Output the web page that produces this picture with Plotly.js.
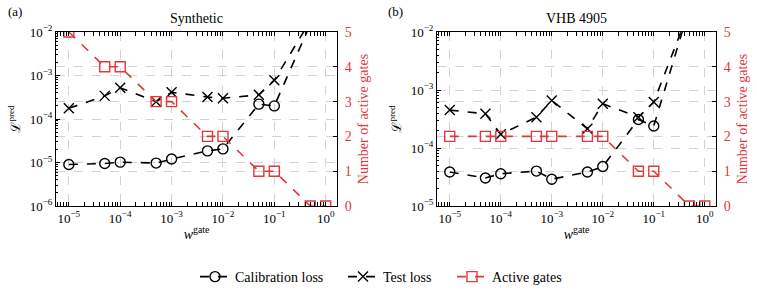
<!DOCTYPE html>
<html><head><meta charset="utf-8">
<script src="https://cdn.plot.ly/plotly-3.0.1.min.js"></script>
<style>html,body{margin:0;padding:0;background:#fff}</style>
</head><body><div id="chart" style="width:757px;height:296px"></div>
<script>
// ---- data ----
const wGate = [1e-5, 5e-5, 1e-4, 5e-4, 1e-3, 5e-3, 1e-2, 5e-2, 1e-1, 5e-1, 1];

const calibSynthetic = [9.0e-6, 9.5e-6, 1.02e-5, 9.7e-6, 1.2e-5, 1.85e-5, 2.06e-5, 2.2e-4, 2.0e-4, 1.5e-2, 4e-2];
const testSynthetic  = [1.76e-4, 3.4e-4, 5.2e-4, 2.5e-4, 4.1e-4, 3.2e-4, 3.0e-4, 3.6e-4, 7.8e-4, 1.8e-2, 5e-2];
const gatesSynthetic = [5, 4, 4, 3, 3, 2, 2, 1, 1, 0, 0];

const calibVHB = [3.86e-5, 3.04e-5, 3.6e-5, 4.0e-5, 2.9e-5, 3.86e-5, 4.8e-5, 3.1e-4, 2.4e-4, 2.6e-2, 5e-2];
const testVHB  = [4.5e-4, 3.9e-4, 1.72e-4, 3.4e-4, 6.6e-4, 2.15e-4, 5.8e-4, 3.4e-4, 6.2e-4, 2.4e-2, 5e-2];
const gatesVHB = [2, 2, 2, 2, 2, 2, 2, 1, 1, 0, 0];

const xTickVals = [1e-5, 1e-4, 1e-3, 1e-2, 1e-1, 1];
const xTickText = ['10<sup>−5</sup>', '10<sup>−4</sup>', '10<sup>−3</sup>', '10<sup>−2</sup>', '10<sup>−1</sup>', '10<sup>0</sup>'];
const yTickValsA = [1e-6, 1e-5, 1e-4, 1e-3, 1e-2];
const yTickTextA = ['10<sup>−6</sup>', '10<sup>−5</sup>', '10<sup>−4</sup>', '10<sup>−3</sup>', '10<sup>−2</sup>'];
const yTickValsB = [1e-5, 1e-4, 1e-3, 1e-2];
const yTickTextB = ['10<sup>−5</sup>', '10<sup>−4</sup>', '10<sup>−3</sup>', '10<sup>−2</sup>'];
const panelTitles = ['Synthetic', 'VHB 4905'];
const panelLabels = ['(a)', '(b)'];
const seriesNames = ['Calibration loss', 'Test loss', 'Active gates'];

// ---- style ----
const RED = '#e0383b';
const FONT = 'Liberation Serif';
const W = 757, H = 296;
const plotTop = 32, plotBottom = 206;
const yDom = [1 - plotBottom / H, 1 - plotTop / H];
const xDomA = [56 / W, 337 / W];
const xDomB = [437 / W, 716 / W];

function lossTrace(y, name, symbol, xa, ya, show, leg) {
  return {
    x: wGate, y: y, name: name, type: 'scatter', mode: 'lines+markers',
    xaxis: xa, yaxis: ya, showlegend: show, legend: leg,
    line: {color: '#000', width: 1.6, dash: 'dash'},
    marker: {symbol: symbol, size: 10, color: '#000', line: {color: '#000', width: 1.4}}
  };
}
function gateTrace(y, xa, ya, show) {
  return {
    x: wGate, y: y, name: seriesNames[2], type: 'scatter', mode: 'lines+markers',
    xaxis: xa, yaxis: ya, showlegend: show, legend: 'legend3',
    line: {color: RED, width: 1.6, dash: 'dash'},
    marker: {symbol: 'square-open', size: 10, color: RED, line: {color: RED, width: 1.4}}
  };
}

const traces = [
  gateTrace(gatesSynthetic, 'x', 'y2', true),
  lossTrace(calibSynthetic, seriesNames[0], 'circle-open', 'x', 'y', true, 'legend'),
  lossTrace(testSynthetic, seriesNames[1], 'x-thin-open', 'x', 'y', true, 'legend2'),
  gateTrace(gatesVHB, 'x2', 'y4', false),
  lossTrace(calibVHB, seriesNames[0], 'circle-open', 'x2', 'y3', false, 'legend'),
  lossTrace(testVHB, seriesNames[1], 'x-thin-open', 'x2', 'y3', false, 'legend2')
];

const tickFont = {family: FONT, size: 13, color: '#000'};
const grid = {showgrid: true, gridcolor: '#c8c8c8', gridwidth: 0.8, griddash: 'dash'};

function xAxis(dom, anchor) {
  return Object.assign({
    type: 'log', range: [-5.25, 0.22], domain: dom, anchor: anchor,
    tickmode: 'array', tickvals: xTickVals, ticktext: xTickText,
    ticks: 'inside', ticklen: 4, tickcolor: '#000', tickwidth: 1,
    minor: {ticks: 'inside', ticklen: 2, tickcolor: '#000', dtick: 'D1', showgrid: false},
    showline: true, linecolor: '#000', linewidth: 1, mirror: 'allticks',
    zeroline: false, tickfont: tickFont, automargin: false,
    title: {text: '<i>w</i><sup>gate</sup>', font: {family: FONT, size: 14, color: '#000'}, standoff: 4}
  }, grid);
}
function yAxis(dom, anchor, range, tv, tt) {
  return Object.assign({
    type: 'log', range: range, domain: dom, anchor: anchor,
    tickmode: 'array', tickvals: tv, ticktext: tt,
    ticks: 'inside', ticklen: 4, tickcolor: '#000', tickwidth: 1,
    minor: {ticks: 'inside', ticklen: 2, tickcolor: '#000', dtick: 'D1', showgrid: false},
    showline: true, linecolor: '#000', linewidth: 1,
    zeroline: false, tickfont: tickFont, automargin: false,
    title: {text: 'ℒ<sup>pred</sup>', font: {family: FONT, size: 13, color: '#000'}, standoff: 6}
  }, grid);
}
function y2Axis(overlay, anchor) {
  return Object.assign({
    range: [0, 5], dtick: 1, tick0: 0, overlaying: overlay, anchor: anchor, side: 'right',
    ticks: 'inside', ticklen: 4, tickcolor: '#000', tickwidth: 1, ticklabelstandoff: 4,
    showline: true, linecolor: '#000', linewidth: 1,
    zeroline: false, automargin: false,
    tickfont: {family: FONT, size: 14, color: RED},
    title: {text: 'Number of active gates', font: {family: FONT, size: 14, color: RED}, standoff: 7}
  }, grid);
}

const annotations = [];
[[xDomA, 0], [xDomB, 1]].forEach(([dom, i]) => {
  annotations.push({xref: 'paper', yref: 'paper', x: (dom[0] + dom[1]) / 2, y: 1 - 18 / H,
    text: panelTitles[i], showarrow: false, xanchor: 'center', yanchor: 'middle',
    font: {family: FONT, size: 14, color: '#000'}});
  annotations.push({xref: 'paper', yref: 'paper', x: (i === 0 ? 6 : 386) / W, y: 1 - 11 / H,
    text: panelLabels[i], showarrow: false, xanchor: 'left', yanchor: 'middle',
    font: {family: FONT, size: 13, color: '#000'}});
});

function legendAt(px) {
  return {orientation: 'h', x: px / W, xanchor: 'left', y: 1 - 277 / H, yanchor: 'middle',
    font: {family: FONT, size: 14, color: '#000'}, bgcolor: 'rgba(0,0,0,0)', itemwidth: 30};
}

const layout = {
  width: W, height: H,
  margin: {l: 0, r: 0, t: 0, b: 0},
  paper_bgcolor: '#fff', plot_bgcolor: '#fff',
  font: {family: FONT, size: 13, color: '#000'},
  xaxis: xAxis(xDomA, 'y'),
  yaxis: yAxis(yDom, 'x', [-6, -2], yTickValsA, yTickTextA),
  yaxis2: y2Axis('y', 'x'),
  xaxis2: xAxis(xDomB, 'y3'),
  yaxis3: yAxis(yDom, 'x2', [-5, -2], yTickValsB, yTickTextB),
  yaxis4: y2Axis('y3', 'x2'),
  showlegend: true,
  legend: legendAt(195),
  legend2: legendAt(343),
  legend3: legendAt(452),
  annotations: annotations
};

Plotly.newPlot('chart', traces, layout, {staticPlot: true, displayModeBar: false});
</script>
</body></html>
